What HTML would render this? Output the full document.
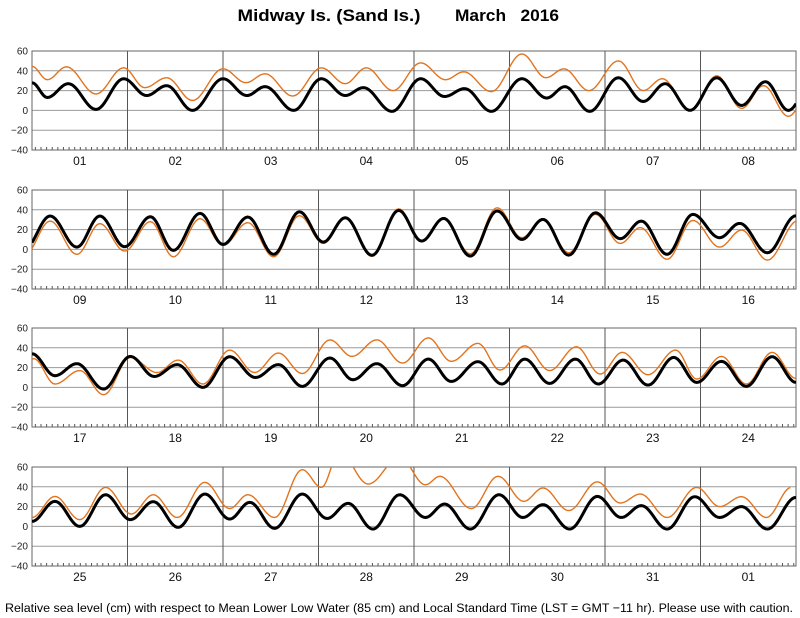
<!DOCTYPE html>
<html><head><meta charset="utf-8"><style>
html,body{margin:0;padding:0;background:#fff;}
svg{display:block;font-family:"Liberation Sans",Arial,sans-serif;}
</style></head><body>
<svg id="chart" width="800" height="618" viewBox="0 0 800 618">
<text x="329" y="21" font-size="17" font-weight="bold" text-anchor="middle" textLength="183" lengthAdjust="spacingAndGlyphs">Midway Is. (Sand Is.)</text>
<text x="507" y="21" font-size="17" font-weight="bold" text-anchor="middle" textLength="104" lengthAdjust="spacingAndGlyphs">March&#160;&#160;&#160;2016</text>
<text x="399" y="612" font-size="12.4" text-anchor="middle" textLength="788" lengthAdjust="spacingAndGlyphs">Relative sea level (cm) with respect to Mean Lower Low Water (85 cm) and Local Standard Time (LST = GMT −11 hr). Please use with caution.</text>
</svg>
<script>
const dayLabels = ["01","02","03","04","05","06","07","08","09","10","11","12","13","14","15","16","17","18","19","20","21","22","23","24","25","26","27","28","29","30","31","01"];
const yTicks = [60,40,20,0,-20,-40];
const yTickLabels = ["60","40","20","0","\u221220","\u221240"];
const predT = [0,.16,.38,.67,.96,1.2,1.41,1.68,2.0,2.25,2.44,2.74,3.03,3.28,3.47,3.77,4.07,4.32,4.53,4.81,5.13,5.39,5.58,5.84,6.14,6.4,6.63,6.89,7.17,7.43,7.68,7.92,
8.19,8.47,8.71,8.97,9.24,9.48,9.76,10.0,10.26,10.53,10.8,11.05,11.28,11.56,11.84,12.08,12.31,12.59,12.87,13.13,13.35,13.62,13.9,14.16,14.38,14.65,14.92,15.2,15.41,15.7,
16.0,16.24,16.47,16.75,17.03,17.28,17.52,17.79,18.07,18.34,18.58,18.83,19.12,19.36,19.61,19.88,20.15,20.39,20.67,20.92,21.16,21.42,21.69,21.93,22.19,22.45,22.72,22.96,23.22,23.48,23.75,
24.0,24.24,24.5,24.77,25.03,25.27,25.53,25.81,26.07,26.28,26.54,26.83,27.09,27.31,27.57,27.85,28.12,28.32,28.59,28.89,29.14,29.35,29.63,29.92,30.17,30.38,30.65,30.94,31.2,31.43,31.7,32.0];
const predV = [28,13,27,1,32,15,25,0,32,15,24,0,32,15,23,-1,32,14,22,-1,32,12.5,24,-1,33,9,27,0,33,5,29,0,
33.7,2.3,33.7,2.7,33,-1,36.4,5,32.7,-5,38,7.4,32,-6,39.4,8.4,31.3,-6.8,38.8,10,30.3,-5.8,37,10.8,28.6,-5,35.4,11.8,26.3,-3.4,
34,11.8,24,-1.7,31.3,11,23,0,31,10,23,1,29.7,7.7,24,1.7,28.6,6,26,3.4,28.6,4,28.6,3.4,27.6,2.3,30.3,5,26.3,1,31,
5,25.3,0,32,6.8,25,-1,32.7,7.4,24.3,-2,32.7,8,23.3,-2.7,32,9,22.6,-2.7,32,9,22,-2.7,30.3,9,21,-2.7,30,9,20,-2.7,29.3];
const obsT = [0,.16,.36,.67,.96,1.18,1.41,1.68,2.0,2.24,2.44,2.73,3.03,3.28,3.5,3.78,4.07,4.33,4.52,4.81,5.13,5.38,5.57,5.83,6.14,6.4,6.6,6.89,7.17,7.43,7.66,7.92,
8.19,8.47,8.71,8.97,9.24,9.48,9.76,10.0,10.26,10.53,10.8,11.05,11.28,11.56,11.84,12.08,12.31,12.59,12.87,13.13,13.35,13.62,13.9,14.16,14.37,14.65,14.92,15.2,15.43,15.7,
16.02,16.24,16.5,16.75,17.03,17.31,17.53,17.79,18.07,18.33,18.58,18.83,19.12,19.35,19.61,19.88,20.15,20.39,20.67,20.9,21.16,21.42,21.7,21.95,22.18,22.45,22.74,22.96,23.22,23.48,23.75,
24.0,24.24,24.5,24.77,25.04,25.27,25.52,25.81,26.07,26.26,26.54,26.83,27.03,27.22,27.52,27.85,28.12,28.27,28.6,28.88,29.15,29.35,29.62,29.92,30.16,30.37,30.65,30.96,31.2,31.43,31.69,31.95];
const obsV = [44.5,31,44,16.6,43,23,33,10,42,28,37,14.5,43,27,43,20,48,31,39,19,57,33,42,20,50,20,32,0,35,2,25,-6,
28.6,-5,26,-1.7,28,-7.5,31,4,27,-7.5,34,6,31,-7,41,8.4,31.3,-4.4,42,11.8,31,-3.4,35.4,6,22,-10,29.3,2.3,19.5,-10.8,
29,3.4,17,-7.4,30.3,15,27.6,3.4,37.7,15,34.7,14,48,31.3,48,24.6,50,26.3,44.5,17.5,42,17,41,13.5,35.4,12.8,37.7,8.4,31.3,3.4,35.4,
9,30.3,6.8,39.4,12.5,32,9,44.5,18,32,9,57.3,39.4,75,42.8,70,42,50.6,18,50.6,25.3,38.8,16,45,23.6,32.7,9,39.4,20,30,9,39.4];

const NS = "http://www.w3.org/2000/svg";
const svg = document.getElementById("chart");
const LEFT = 32, RIGHT = 796, H = 99, DAYS = 8;
const TOPS = [51, 190, 328, 467];
const DW = (RIGHT - LEFT) / DAYS;
function xScale(t, p) { return LEFT + (t - p * DAYS) * DW; }
function yScale(v, p) { return TOPS[p] + (60 - v) / 100 * H; }
function mk(tag, attrs) { const e = document.createElementNS(NS, tag); for (const k in attrs) e.setAttribute(k, attrs[k]); return e; }
function evalCurve(T, V, t) {
  if (t <= T[0]) return V[0];
  if (t >= T[T.length - 1]) return V[V.length - 1];
  let i = 0; while (T[i + 1] < t) i++;
  const f = (t - T[i]) / (T[i + 1] - T[i]);
  const w = (1 - Math.cos(Math.PI * f)) / 2;
  return V[i] + (V[i + 1] - V[i]) * w;
}
const defs = mk("defs", {}); svg.appendChild(defs);
for (let p = 0; p < 4; p++) {
  const top = TOPS[p], bot = top + H;
  const g = mk("g", {});
  
  
  svg.appendChild(g);
  const cp = mk("clipPath", { id: "clip" + p });
  cp.appendChild(mk("rect", { x: LEFT, y: top, width: RIGHT - LEFT, height: H }));
  defs.appendChild(cp);
  yTicks.forEach((v, i) => {
    const y = yScale(v, p);
    const l = mk("line", { x1: LEFT, x2: RIGHT, y1: y, y2: y, stroke: "#9a9a9a", "stroke-width": 1 });
    
    
    g.appendChild(l);
    const t = mk("text", { x: 28, y: y + 3.5, "font-size": 10, "text-anchor": "end", fill: "#222" });
    
    
    t.textContent = yTickLabels[i];
    g.appendChild(t);
  });
  for (let d = 0; d < DAYS; d++) {
    const x0 = LEFT + d * DW;
    if (d > 0) {
      const l = mk("line", { x1: x0, x2: x0, y1: top, y2: bot, stroke: "#555", "stroke-width": 1 });
      
      
      g.appendChild(l);
    }
    for (let k = 0; k < 17; k++) {
      const tx = x0 + (k + 0.6) * DW / 17;
      const tk = mk("line", { x1: tx, x2: tx, y1: bot, y2: bot - 3, stroke: "#555", "stroke-width": 1 });
      
      
      g.appendChild(tk);
    }
    const lb = mk("text", { x: x0 + DW / 2, y: bot + 15, "font-size": 12, "text-anchor": "middle", fill: "#111" });
    
    
    lb.textContent = dayLabels[p * DAYS + d];
    g.appendChild(lb);
  }
  const fr = mk("rect", { x: LEFT, y: top, width: RIGHT - LEFT, height: H, fill: "none", stroke: "#666", "stroke-width": 1 });
  
  
  g.appendChild(fr);
  const series = [[obsT, obsV, "#e2741f", 1.4, "observed-line"], [predT, predV, "#000", 3, "predicted-line"]];
  series.forEach(s => {
    const T = s[0], V = s[1];
    const t0 = p * DAYS, t1 = Math.min((p + 1) * DAYS, T[T.length - 1]);
    let dstr = "";
    for (let t = t0; t <= t1 + 1e-9; t += 0.02) {
      dstr += (dstr ? "L" : "M") + xScale(t, p).toFixed(2) + "," + yScale(evalCurve(T, V, t), p).toFixed(2);
    }
    const path = mk("path", { d: dstr, fill: "none", stroke: s[2], "stroke-width": s[3], "stroke-linejoin": "round", "clip-path": "url(#clip" + p + ")" });
    
    
    g.appendChild(path);
  });
}
</script>
</body></html>
